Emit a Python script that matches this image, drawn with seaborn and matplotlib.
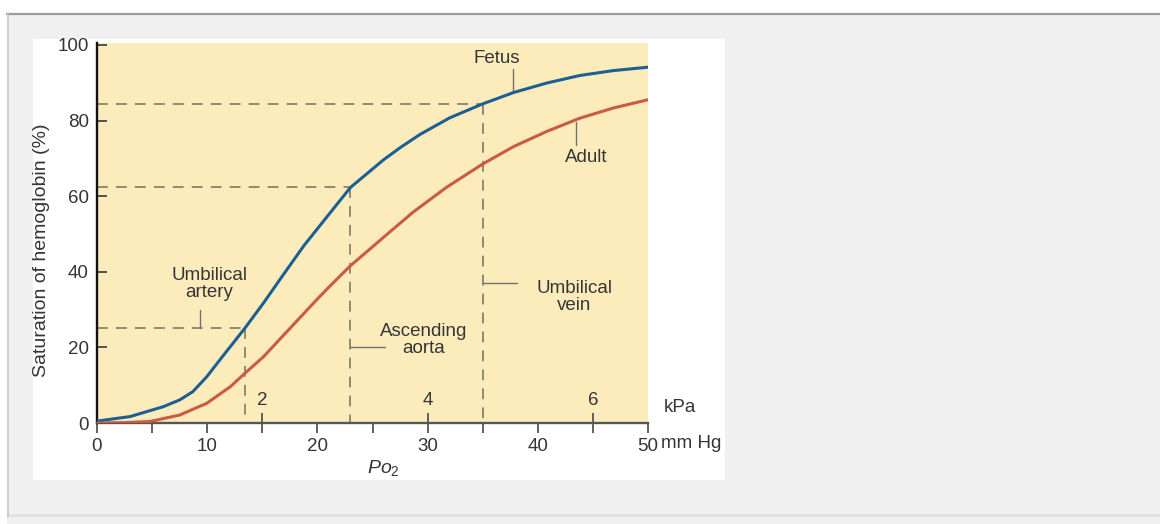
import numpy as np
import pandas as pd
import matplotlib
matplotlib.use("Agg")
import matplotlib.pyplot as plt
import seaborn as sns
from matplotlib.patches import Rectangle
from matplotlib.lines import Line2D

# ---------------- data ----------------
fetus_po2 = [0, 3.0, 6.0, 7.5, 8.7, 9.95, 11.5, 13.4, 15.1, 16.9, 18.8, 23.0,
             26.0, 27.5, 29.3, 32.0, 35.0, 37.8, 40.8, 43.8, 46.85, 50.0]
fetus_sat = [0.5, 1.7, 4.3, 6.1, 8.3, 12.2, 18.0, 25.0, 31.7, 39.2, 47.0, 62.3,
             69.6, 72.8, 76.3, 80.7, 84.4, 87.4, 89.9, 91.9, 93.2, 94.1]
adult_po2 = [0, 2.5, 4.8, 7.5, 9.95, 12.1, 13.4, 15.1, 17.5, 19.9, 21.1, 23.0,
             26.6, 28.7, 31.7, 35.0, 37.8, 40.8, 43.8, 46.85, 50.0]
adult_sat = [0.0, 0.1, 0.4, 2.1, 5.2, 9.6, 13.1, 17.5, 25.0, 32.5, 36.1, 41.6,
             50.6, 55.8, 62.3, 68.5, 73.1, 77.1, 80.6, 83.3, 85.5]

mmhg_ticks = [0, 10, 20, 30, 40, 50]
mmhg_minor = [5, 15, 25, 35, 45]
kpa_ticks = [2, 4, 6]
sat_ticks = [0, 20, 40, 60, 80, 100]
ref_names = ["Umbilical artery", "Ascending aorta", "Umbilical vein"]
ref_po2 = [13.4, 23.0, 35.0]
ref_sat = [25.0, 62.3, 84.4]
MMHG_PER_KPA = 7.50062

# ---------------- style ----------------
sns.set_theme(style="ticks")
plt.rcParams['font.family'] = ['Liberation Sans', 'DejaVu Sans']
plt.rcParams.update({
    'mathtext.fontset': 'custom',
    'mathtext.it': 'Liberation Sans:italic',
    'mathtext.rm': 'Liberation Sans',
})
TXT = '#353535'
FS = 13.5

W, H = 1160, 524
fig = plt.figure(figsize=(W / 100, H / 100), dpi=100, facecolor='white')


def frect(x0, y0, x1, y1, **kw):
    r = Rectangle((x0 / W, 1 - y1 / H), (x1 - x0) / W, (y1 - y0) / H,
                  transform=fig.transFigure, zorder=-5, **kw)
    fig.add_artist(r)


def fline(x0, y0, x1, y1, **kw):
    l = Line2D([x0 / W, x1 / W], [1 - y0 / H, 1 - y1 / H],
               transform=fig.transFigure, zorder=-4, **kw)
    fig.add_artist(l)


# page decoration
frect(7, 13, W, 514, facecolor='#f0f0f0', edgecolor='none')
frect(7, 514, W, 517, facecolor='#e2e2e2', edgecolor='none')
frect(7, 517, W, H, facecolor='#f0f0f0', edgecolor='none')
fline(7, 13.5, W, 13.5, color='#9a9a9a', lw=1.6)
fline(7.5, 13, 7.5, 517, color='#c8c8c8', lw=1.2)
frect(33, 39, 725, 480, facecolor='white', edgecolor='none')

# ---------------- axes ----------------
ax = fig.add_axes([97 / W, (H - 423) / H, 551 / W, 380 / H])
ax.set_facecolor('#fdecbb')

df = pd.DataFrame({
    'po2': fetus_po2 + adult_po2,
    'sat': fetus_sat + adult_sat,
    'curve': ['Fetus'] * len(fetus_po2) + ['Adult'] * len(adult_po2),
})
sns.lineplot(data=df, x='po2', y='sat', hue='curve',
             palette={'Fetus': '#1c5f92', 'Adult': '#cb5a43'},
             linewidth=2.2, legend=False, ax=ax, zorder=4)
for ln in ax.lines:
    ln.set_solid_capstyle('round')
    ln.set_solid_joinstyle('round')

# dashed reference lines
dash_kw = dict(color='#85826f', lw=1.3, ls=(0, (6, 4.5)), zorder=2)
for p, s in zip(ref_po2, ref_sat):
    ax.plot([0, p], [s, s], **dash_kw)
    ax.plot([p, p], [s, 0], **dash_kw)

# leader lines + labels
lead = dict(color='#707070', lw=1.0, zorder=3)
tk = dict(color=TXT, fontsize=FS, ha='center', va='center', linespacing=1.0)

ax.plot([37.75, 37.75], [93.7, 87.8], **lead)
ax.text(36.3, 96.4, 'Fetus', **tk)

ax.plot([43.5, 43.5], [79.6, 73.5], **lead)
ax.text(44.4, 70.1, 'Adult', **tk)

ax.plot([35.0, 38.1], [37.0, 37.0], **lead)
ax.text(43.3, 33.4, 'Umbilical\nvein', **tk)

ax.plot([23.0, 26.1], [20.1, 20.1], **lead)
ax.text(29.6, 22.0, 'Ascending\naorta', **tk)

ax.plot([9.35, 9.35], [29.9, 25.0], **lead)
ax.text(10.2, 36.8, 'Umbilical\nartery', **tk)

# ---------------- scales / ticks ----------------
ax.set_xlim(0, 50)
ax.set_ylim(0, 100.5)
ax.set_xticks(mmhg_ticks)
ax.set_xticks(mmhg_minor, minor=True)
ax.set_xticklabels([str(t) for t in mmhg_ticks])
ax.tick_params(axis='x', which='both', direction='out', length=7.5, width=1.3,
               color='#555555', pad=3, labelsize=FS, labelcolor=TXT)
ax.set_yticks(sat_ticks)
ax.set_yticklabels([str(t) for t in sat_ticks])
ax.tick_params(axis='y', direction='in', length=7.5, width=1.3,
               color='#444444', pad=6, labelsize=FS, labelcolor=TXT)

for s in ['top', 'right']:
    ax.spines[s].set_visible(False)
ax.spines['left'].set_color('#111111')
ax.spines['left'].set_linewidth(1.7)
ax.spines['bottom'].set_color('#555555')
ax.spines['bottom'].set_linewidth(1.7)
ax.grid(False)

# kPa scale drawn on the same baseline
sec = ax.secondary_xaxis(0.0, functions=(lambda m: np.asarray(m) / MMHG_PER_KPA,
                                         lambda k: np.asarray(k) * MMHG_PER_KPA))
sec.set_xticks(kpa_ticks)
sec.set_xticklabels([str(k) for k in kpa_ticks])
sec.xaxis.set_ticks_position('top')
sec.tick_params(axis='x', which='major', direction='out', length=7.5, width=1.3,
                color='#555555', labelsize=FS, labelcolor=TXT, pad=2.5,
                top=True, labeltop=True, bottom=False, labelbottom=False)
sec.tick_params(axis='x', which='minor', length=0)
for s in sec.spines.values():
    s.set_visible(False)

ax.text(52.9, 4.2, 'kPa', color=TXT, fontsize=FS, ha='center', va='center', clip_on=False)
ax.annotate('mm Hg', xy=(50, 0), xytext=(13, -21), textcoords='offset pixels',
            ha='left', va='center', color=TXT, fontsize=FS, annotation_clip=False)

# axis labels
ax.set_xlabel(r'$Po_2$', fontsize=FS + 0.5, color=TXT)
ax.xaxis.label.set_va('center')
ax.xaxis.set_label_coords(26.0 / 50, (423 - 468) / 380)
ax.set_ylabel('Saturation of hemoglobin (%)', fontsize=14, color=TXT)
ax.yaxis.label.set_va('center')
ax.yaxis.set_label_coords((42 - 97) / 551, (423 - 250) / 380)

fig.savefig('out.png', dpi=100, facecolor=fig.get_facecolor())
